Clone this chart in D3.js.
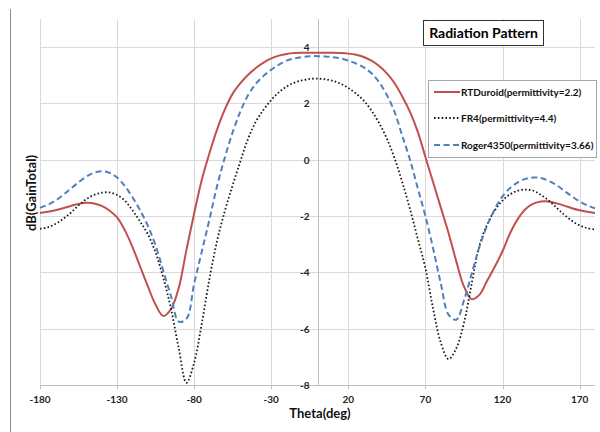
<!DOCTYPE html>
<html><head><meta charset="utf-8">
<script src="https://cdn.jsdelivr.net/npm/d3@7"></script>
<style>body{margin:0;background:#fff}svg{display:block}</style>
</head><body>
<svg id="chart" width="600" height="432"></svg>
<script>
const theta = [-180,-175,-170,-165,-160,-155,-150,-145,-140,-135,-130,-125,-120,-115,-110,-105,-100,-95,-90,-85,-80,-75,-70,-65,-60,-55,-50,-45,-40,-35,-30,-25,-20,-15,-10,-5,0,5,10,15,20,25,30,35,40,45,50,55,60,65,70,75,80,85,90,95,100,105,110,115,120,125,130,135,140,145,150,155,160,165,170,175,180];
const rtDuroid = [-1.89,-1.85,-1.79,-1.72,-1.64,-1.57,-1.53,-1.55,-1.64,-1.8,-2.05,-2.5,-3.1,-3.8,-4.5,-5.15,-5.55,-5.3,-4.55,-3.2,-1.9,-0.7,0.25,1.1,1.8,2.35,2.72,3.02,3.26,3.45,3.6,3.7,3.76,3.79,3.8,3.8,3.8,3.8,3.8,3.79,3.77,3.73,3.65,3.52,3.33,3.07,2.72,2.25,1.7,1.0,0.1,-0.8,-1.7,-2.6,-3.6,-4.5,-4.95,-4.8,-4.3,-3.8,-3.25,-2.6,-2.1,-1.75,-1.56,-1.48,-1.48,-1.55,-1.63,-1.72,-1.79,-1.85,-1.89];
const fr4 = [-2.45,-2.4,-2.28,-2.1,-1.88,-1.62,-1.4,-1.25,-1.17,-1.16,-1.25,-1.45,-1.8,-2.2,-2.65,-3.3,-4.2,-5.3,-6.7,-7.92,-7.2,-5.8,-4.2,-2.85,-1.8,-0.9,-0.05,0.75,1.35,1.78,2.12,2.4,2.6,2.74,2.82,2.87,2.88,2.86,2.8,2.7,2.55,2.35,2.1,1.75,1.3,0.75,0.05,-0.8,-1.75,-2.8,-3.85,-5.3,-6.5,-7.08,-6.7,-5.8,-4.4,-3.05,-2.3,-1.8,-1.45,-1.22,-1.1,-1.06,-1.1,-1.25,-1.45,-1.7,-1.95,-2.17,-2.33,-2.43,-2.48];
const roger4350 = [-1.71,-1.6,-1.45,-1.25,-1.02,-0.8,-0.6,-0.46,-0.41,-0.46,-0.63,-0.93,-1.33,-1.8,-2.35,-3.05,-3.95,-4.85,-5.75,-5.65,-4.4,-3.25,-2.1,-0.9,0.1,0.98,1.72,2.3,2.7,2.98,3.2,3.38,3.52,3.6,3.65,3.68,3.68,3.67,3.64,3.6,3.52,3.42,3.28,3.07,2.75,2.3,1.7,0.85,0.0,-1.0,-2.0,-3.15,-4.4,-5.5,-5.68,-5.0,-4.05,-3.1,-2.35,-1.75,-1.3,-1.0,-0.8,-0.68,-0.63,-0.65,-0.75,-0.9,-1.1,-1.3,-1.48,-1.62,-1.72];
const seriesNames = ["RTDuroid(permittivity=2.2)","FR4(permittivity=4.4)","Roger4350(permittivity=3.66)"];
const xTicks = [-180,-130,-80,-30,20,70,120,170];
const yTicks = [-8,-6,-4,-2,0,2,4];

const svg = d3.select("#chart");
const font = "Lato, 'Open Sans', sans-serif";
const x = d3.scaleLinear().domain([-180,180]).range([40,595]);
const y = d3.scaleLinear().domain([-8,5]).range([385,19]);

// chart border (left)
svg.append("line").attr("x1",10.5).attr("x2",10.5).attr("y1",9).attr("y2",432).attr("stroke","#8c8c8c");

// grid
const g = svg.append("g");
g.selectAll(".hg").data(yTicks.filter(d=>d>-8)).enter().append("line")
  .attr("x1",x(-180)).attr("x2",x(180)).attr("y1",d=>Math.round(y(d))+0.5).attr("y2",d=>Math.round(y(d))+0.5)
  .attr("stroke","#d9d9d9").attr("stroke-width",1);
g.selectAll(".vg").data(xTicks).enter().append("line")
  .attr("x1",d=>Math.round(x(d))+0.5).attr("x2",d=>Math.round(x(d))+0.5).attr("y1",y(5)).attr("y2",y(-8))
  .attr("stroke","#d9d9d9").attr("stroke-width",1);

// axes lines
svg.append("line").attr("x1",x(-180)).attr("x2",x(180)).attr("y1",Math.round(y(-8))+0.5).attr("y2",Math.round(y(-8))+0.5).attr("stroke","#bfbfbf");
svg.append("line").attr("x1",Math.round(x(0))+0.5).attr("x2",Math.round(x(0))+0.5).attr("y1",y(5)).attr("y2",y(-8)).attr("stroke","#bfbfbf");
svg.selectAll(".xt").data(xTicks).enter().append("line")
  .attr("x1",d=>Math.round(x(d))+0.5).attr("x2",d=>Math.round(x(d))+0.5).attr("y1",y(-8)).attr("y2",y(-8)+4).attr("stroke","#bfbfbf");

// tick labels
svg.selectAll(".xl").data(xTicks).enter().append("text")
  .attr("x",d=>x(d)).attr("y",y(-8)+18).attr("text-anchor","middle")
  .attr("font-family",font).attr("font-size",10).attr("font-weight","bold").attr("fill","#222")
  .text(d=>d);
svg.selectAll(".yl").data(yTicks).enter().append("text")
  .attr("x",x(0)-8).attr("y",d=>y(d)+4).attr("text-anchor","end")
  .attr("font-family",font).attr("font-size",10).attr("font-weight","bold").attr("fill","#222")
  .text(d=>d);

// axis titles
svg.append("text").attr("x",320).attr("y",418).attr("text-anchor","middle")
  .attr("font-family",font).attr("font-size",13).attr("font-weight","bold").attr("fill","#111").text("Theta(deg)");
svg.append("text").attr("transform","translate(36,193) rotate(-90)").attr("text-anchor","middle")
  .attr("font-family",font).attr("font-size",13).attr("font-weight","bold").attr("fill","#111").text("dB(GainTotal)");

// lines
const styles = [
  {data: rtDuroid, color:"#C0504D", dash:null, width:2},
  {data: fr4, color:"#1a1a1a", dash:"1.6,2.2", width:1.8},
  {data: roger4350, color:"#4F81BD", dash:"6,3.5", width:2}
];
const line = d3.line().x(d=>x(d[0])).y(d=>y(d[1])).curve(d3.curveCatmullRom.alpha(0.5));
styles.forEach(s=>{
  svg.append("path").datum(theta.map((t,i)=>[t,s.data[i]]))
    .attr("d",line).attr("fill","none").attr("stroke",s.color).attr("stroke-width",s.width)
    .attr("stroke-dasharray",s.dash);
});

// title box
svg.append("rect").attr("x",423.5).attr("y",20.5).attr("width",120).attr("height",25)
  .attr("fill","#fff").attr("stroke","#333").attr("stroke-width",1);
svg.append("text").attr("x",483.5).attr("y",38).attr("text-anchor","middle")
  .attr("font-family",font).attr("font-size",14).attr("font-weight","bold").attr("fill","#000").text("Radiation Pattern");

// legend
svg.append("rect").attr("x",428.5).attr("y",80.5).attr("width",168).attr("height",77)
  .attr("fill","#fff").attr("stroke","#a6a6a6").attr("stroke-width",1);
const ly = [92,118,145];
styles.forEach((s,i)=>{
  svg.append("line").attr("x1",434).attr("x2",460).attr("y1",ly[i]).attr("y2",ly[i])
    .attr("stroke",s.color).attr("stroke-width",s.width).attr("stroke-dasharray",s.dash);
  svg.append("text").attr("x",461).attr("y",ly[i]+3.5)
    .attr("font-family",font).attr("font-size",10).attr("font-weight","bold").attr("fill","#111").text(seriesNames[i]);
});
</script>
</body></html>
